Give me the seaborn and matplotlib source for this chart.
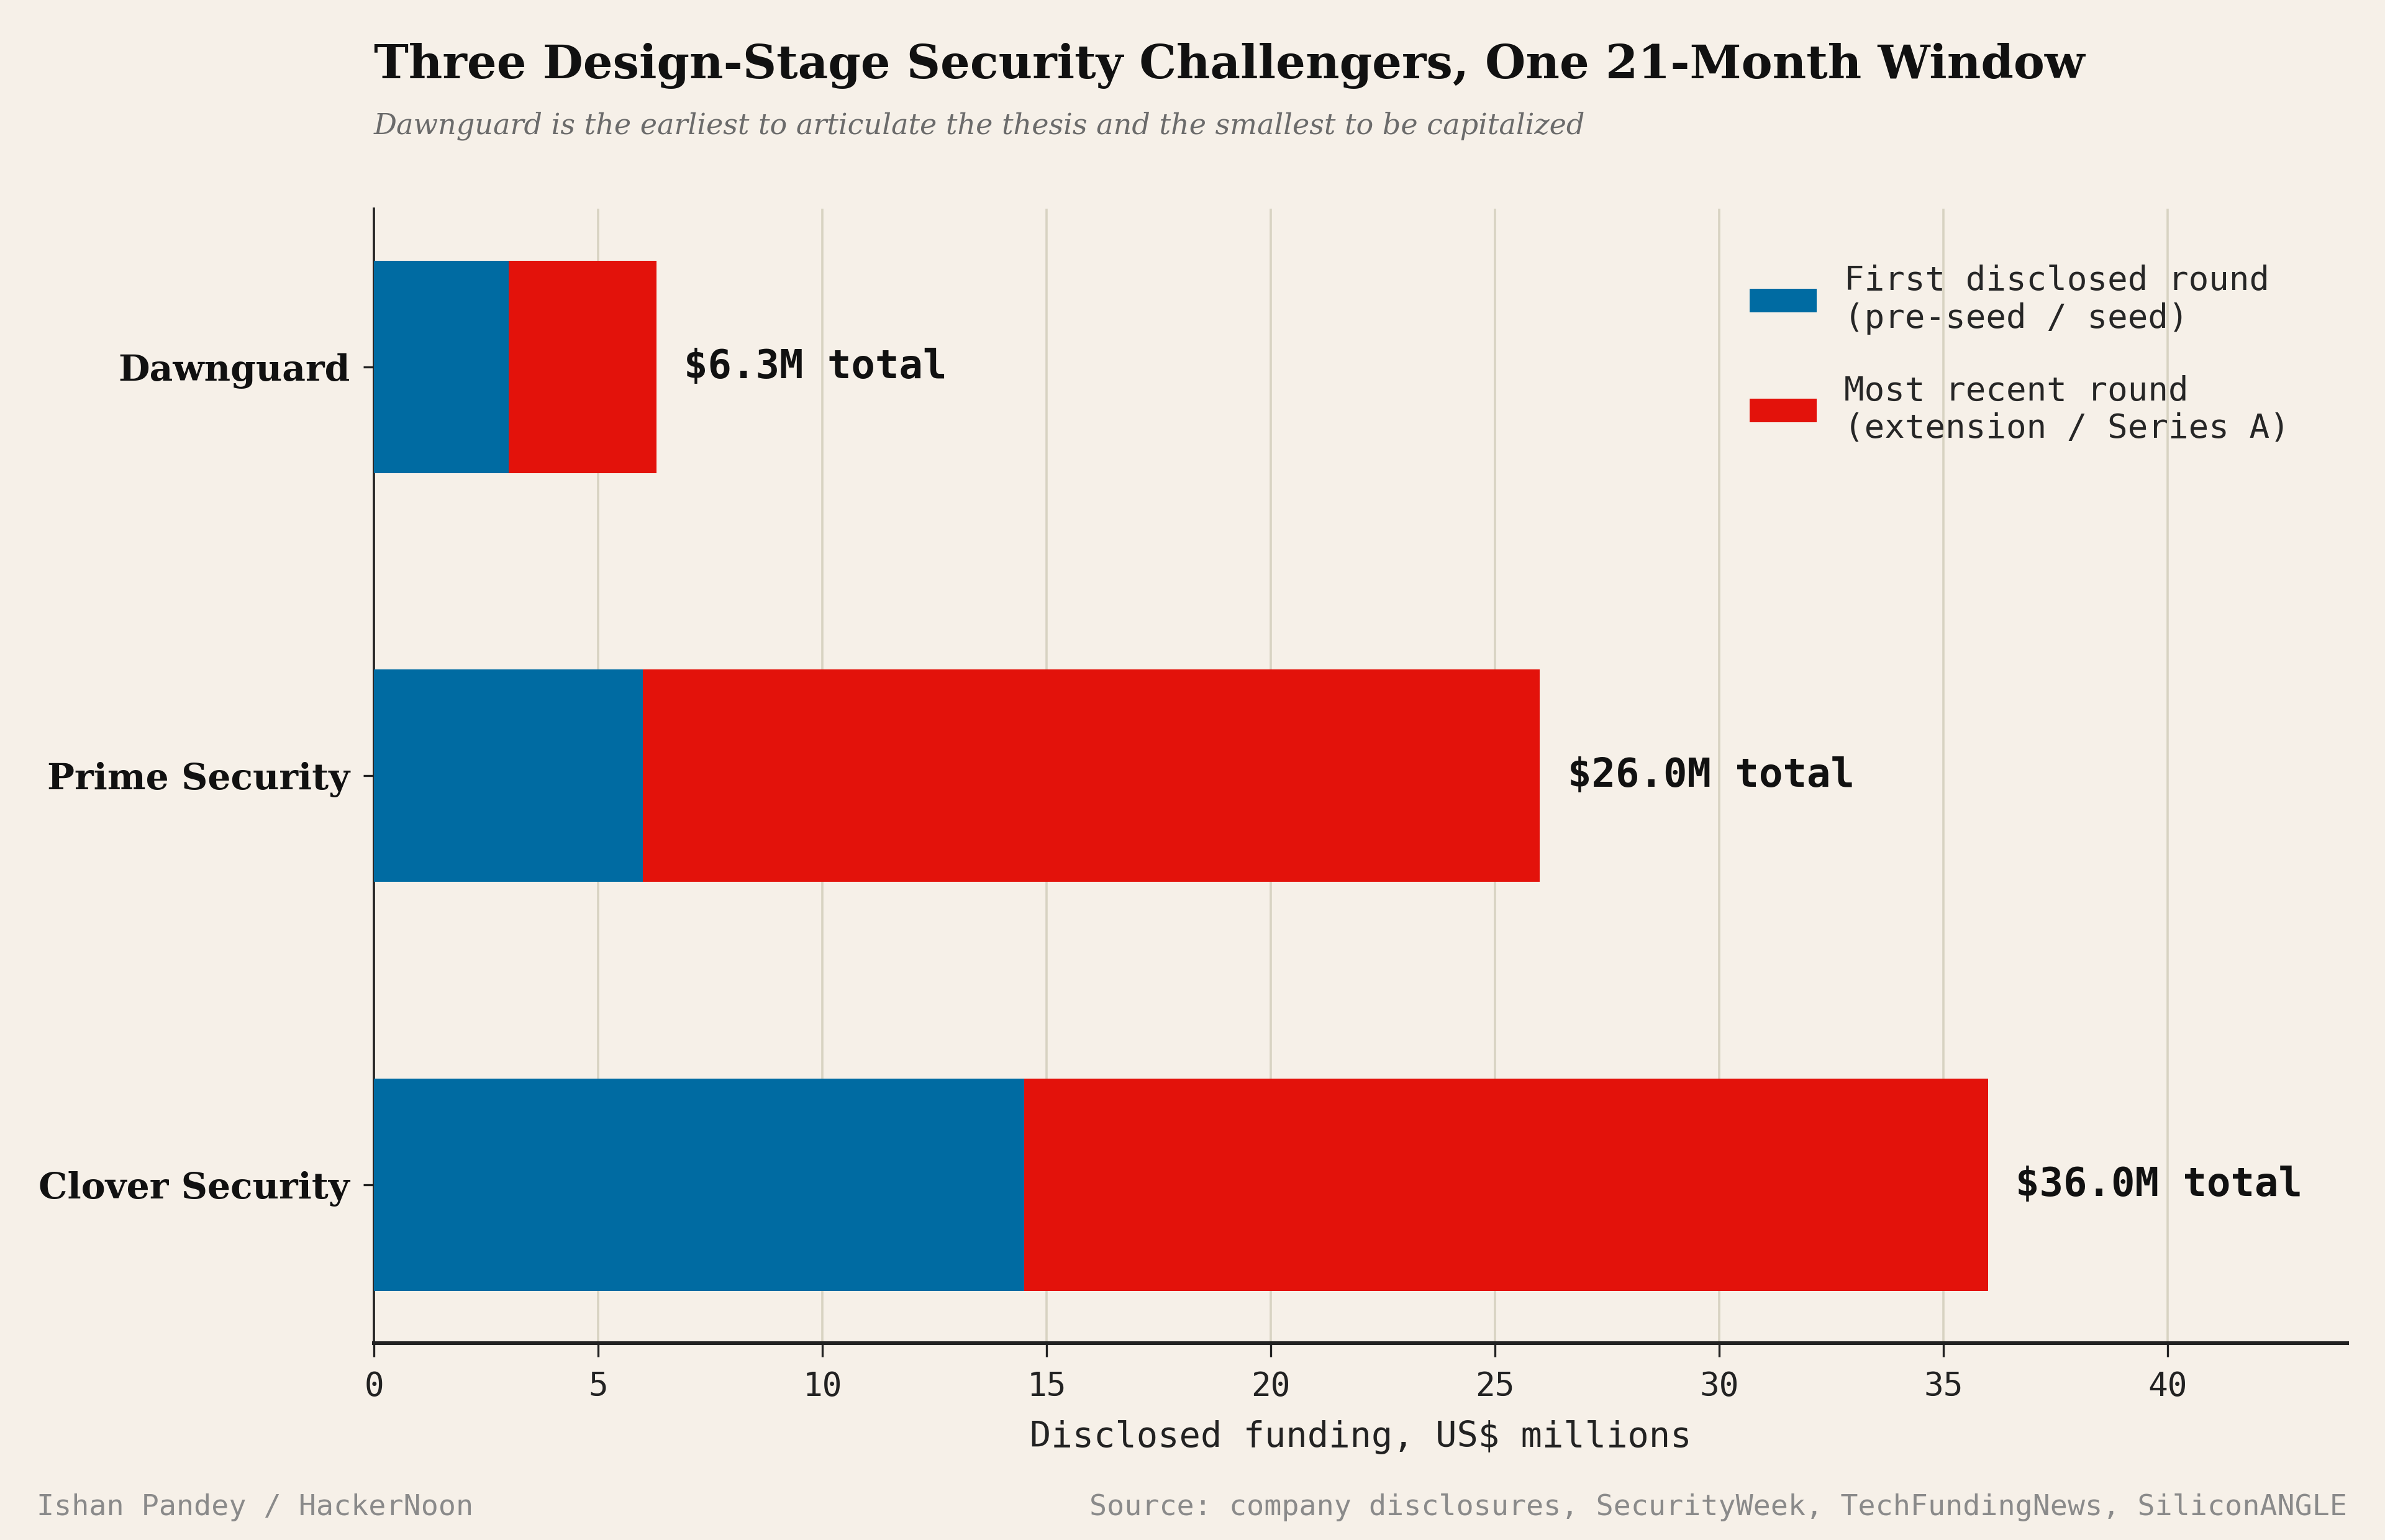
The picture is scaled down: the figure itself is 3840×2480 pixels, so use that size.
import seaborn as sns
import pandas as pd
import matplotlib.pyplot as plt
from matplotlib.patches import Patch

# datos
companies = ['Dawnguard', 'Prime Security', 'Clover Security']
first_round = [3.0, 6.0, 14.5]
recent_round = [3.3, 20.0, 21.5]
totals = [a + b for a, b in zip(first_round, recent_round)]
x_ticks = [0, 5, 10, 15, 20, 25, 30, 35, 40]

df = pd.DataFrame({'company': companies, 'first': first_round,
                   'recent': recent_round, 'total': totals})

BG = '#f6f0e8'
BLUE = '#006ba2'
RED = '#e3120b'
MONO = 'DejaVu Sans Mono'
SERIF = 'DejaVu Serif'

sns.set_theme(style='white')
plt.rcParams['font.family'] = [MONO]

fig = plt.figure(figsize=(19.2, 12.4), dpi=200, facecolor=BG)
ax = fig.add_axes([0.1568, 0.128, 0.8272, 0.7365], facecolor=BG)

# barra total (roja) y encima la primera ronda (azul)
sns.barplot(data=df, y='company', x='total', orient='h', color=RED,
            width=0.52, linewidth=0, saturation=1, ax=ax, zorder=3)
sns.barplot(data=df, y='company', x='first', orient='h', color=BLUE,
            width=0.52, linewidth=0, saturation=1, ax=ax, zorder=4)

for i, t in enumerate(totals):
    ax.annotate(f'${t:.1f}M total', xy=(t, i), xytext=(16, 0),
                textcoords='offset points', va='center', ha='left',
                fontsize=23, fontweight='bold', family=MONO, color='#111111')

ax.set_xlim(0, 44)
ax.set_ylim(2.387, -0.387)
ax.set_xticks(x_ticks)
ax.set_xticklabels([str(v) for v in x_ticks], fontsize=19, family=MONO, color='#222222')
ax.set_yticks(range(len(companies)))
ax.set_yticklabels(companies, fontsize=21, family=SERIF, fontweight='bold', color='#111111')
ax.tick_params(axis='x', length=8, width=1.2, color='#222222', pad=8, bottom=True)
ax.tick_params(axis='y', length=6, width=1.2, color='#222222', pad=8, left=True)
ax.set_xlabel('Disclosed funding, US$ millions', fontsize=20.5, family=MONO,
              color='#222222', labelpad=10)
ax.set_ylabel('')

ax.grid(axis='x', color='#d8d3c2', linewidth=1.3, zorder=0)
ax.grid(axis='y', visible=False)
for s in ['top', 'right']:
    ax.spines[s].set_visible(False)
ax.spines['left'].set_color('#222222')
ax.spines['left'].set_linewidth(1.3)
ax.spines['bottom'].set_color('#222222')
ax.spines['bottom'].set_linewidth(2.2)

handles = [Patch(facecolor=BLUE, edgecolor='none'), Patch(facecolor=RED, edgecolor='none')]
labels = ['First disclosed round\n(pre-seed / seed)', 'Most recent round\n(extension / Series A)']
fig.legend(handles, labels, loc='upper left', bbox_to_anchor=(0.7265, 0.839),
           frameon=False, prop={'family': MONO, 'size': 19.5},
           handlelength=2.0, handleheight=0.7, handletextpad=0.8, labelspacing=1.2,
           borderpad=0)

fig.text(0.1568, 0.949, 'Three Design-Stage Security Challengers, One 21-Month Window',
         fontsize=27, fontweight='bold', family=SERIF, color='#111111', va='baseline')
fig.text(0.1568, 0.913, 'Dawnguard is the earliest to articulate the thesis and the smallest to be capitalized',
         fontsize=16.6, style='italic', family=SERIF, color='#6b6b6b', va='baseline')

fig.text(0.0154, 0.021, 'Ishan Pandey / HackerNoon', fontsize=16.8, family=MONO,
         color='#8a8a8a', va='center', ha='left')
fig.text(0.984, 0.021, 'Source: company disclosures, SecurityWeek, TechFundingNews, SiliconANGLE',
         fontsize=16.8, family=MONO, color='#8a8a8a', va='center', ha='right')

fig.savefig('out.png', dpi=200, facecolor=BG)
plt.close(fig)
